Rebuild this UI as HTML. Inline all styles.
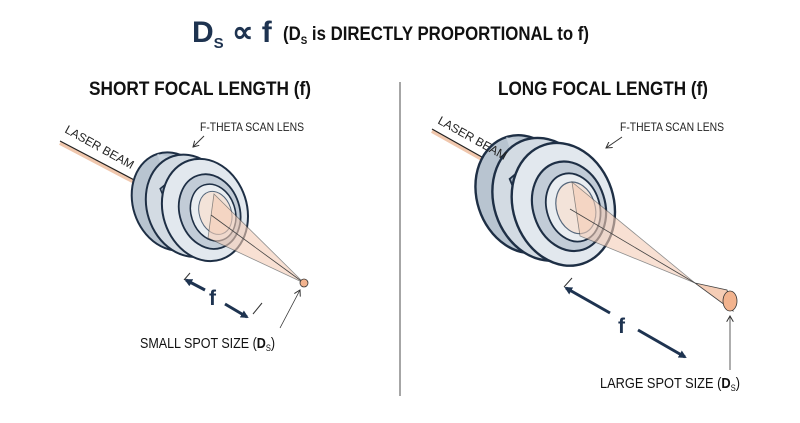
<!DOCTYPE html>
<html><head><meta charset="utf-8"><style>
html,body{margin:0;padding:0;background:#fff;}
svg{display:block;font-family:"Liberation Sans Narrow","Liberation Sans",sans-serif;}
</style></head><body>
<svg width="800" height="423" viewBox="0 0 800 423" xmlns="http://www.w3.org/2000/svg">
<defs>
<marker id="ah" markerWidth="8" markerHeight="8" refX="6" refY="4" orient="auto" markerUnits="userSpaceOnUse"><path d="M0,0 L8,4 L0,8 z" fill="#1e3350"/></marker>
<marker id="sa" markerWidth="7" markerHeight="7" refX="6" refY="3.5" orient="auto" markerUnits="userSpaceOnUse"><path d="M0,0 L6,3.5 L0,7" fill="none" stroke="#333" stroke-width="1"/></marker>
<g id="lens">
  <ellipse cx="-22" cy="-14" rx="40" ry="50" fill="#b8c4d0" stroke="#1e2f45" stroke-width="2"/>
  <path d="M-22,-64 L10,-44 L10,56 L-22,36 Z" fill="#c9d3dd"/>
  <ellipse cx="-8" cy="-5" rx="42" ry="52" fill="#d3dbe3" stroke="#1e2f45" stroke-width="2"/>
  <path d="M-30,-30 L-10,-38 L-6,10 L-26,20Z" fill="#a9b6c4" stroke="#1e2f45" stroke-width="1.5"/>
  <ellipse cx="6" cy="4" rx="42" ry="52" fill="#e2e8ee" stroke="#1e2f45" stroke-width="2"/>
  <ellipse cx="10" cy="7" rx="30" ry="38" fill="#c2ccd7" stroke="#1e2f45" stroke-width="1.8"/>
  <ellipse cx="13" cy="9" rx="22" ry="29" fill="#e9edf1" stroke="#1e2f45" stroke-width="1.5"/>
  <ellipse cx="15" cy="10" rx="16" ry="22" fill="#f3e3d9" stroke="#55677c" stroke-width="1"/>
</g>
</defs>

<text x="192" y="42" font-size="30" font-weight="bold" fill="#1e3350">D<tspan font-size="15" dy="6">S</tspan><tspan dy="-6"> ∝ f</tspan></text>
<text x="283" y="40" font-size="19" font-weight="bold" fill="#111" textLength="306" lengthAdjust="spacingAndGlyphs">(D<tspan font-size="11" dy="4">S</tspan><tspan dy="-4"> is DIRECTLY PROPORTIONAL to f)</tspan></text>

<text x="200" y="95" font-size="19" font-weight="bold" fill="#111" text-anchor="middle" textLength="222" lengthAdjust="spacingAndGlyphs">SHORT FOCAL LENGTH (f)</text>
<text x="603" y="95" font-size="19" font-weight="bold" fill="#111" text-anchor="middle" textLength="210" lengthAdjust="spacingAndGlyphs">LONG FOCAL LENGTH (f)</text>

<line x1="400" y1="82" x2="400" y2="396" stroke="#888" stroke-width="1.5"/>

<!-- LEFT -->
<line x1="60" y1="143" x2="140" y2="185" stroke="#f0c7ad" stroke-width="4"/>
<line x1="60" y1="141" x2="140" y2="183" stroke="#222" stroke-width="1.2"/>
<g transform="translate(198,208) rotate(-18) scale(1.0)"><use href="#lens"/></g>
<text x="64" y="132" font-size="12" fill="#222" transform="rotate(29 64 132)">LASER BEAM</text>
<path d="M214,194 L304,283 L208,238 Z" fill="#f5cdb6" opacity="0.6" stroke="#444" stroke-width="0.8"/>
<line x1="211" y1="215" x2="304" y2="283" stroke="#444" stroke-width="0.8"/>
<circle cx="304" cy="283" r="4" fill="#f2b38e" stroke="#333" stroke-width="0.8"/>
<text x="200" y="131" font-size="12" fill="#222" textLength="104" lengthAdjust="spacingAndGlyphs">F-THETA SCAN LENS</text>
<line x1="204" y1="136" x2="193" y2="147" stroke="#333" stroke-width="1" marker-end="url(#sa)"/>
<line x1="205" y1="290" x2="186" y2="280" stroke="#1e3350" stroke-width="3" marker-end="url(#ah)"/>
<line x1="225" y1="304" x2="247" y2="317" stroke="#1e3350" stroke-width="3" marker-end="url(#ah)"/>
<text x="209" y="305" font-size="21" font-weight="bold" fill="#1e3350">f</text>
<line x1="184" y1="280" x2="190" y2="273" stroke="#333" stroke-width="1"/>
<line x1="253" y1="314" x2="262" y2="303" stroke="#333" stroke-width="1"/>
<line x1="280" y1="328" x2="300" y2="290" stroke="#333" stroke-width="0.8" marker-end="url(#sa)"/>
<text x="140" y="348" font-size="15" fill="#111" textLength="135" lengthAdjust="spacingAndGlyphs">SMALL SPOT SIZE (<tspan font-weight="bold">D</tspan><tspan font-size="9" dy="3">S</tspan><tspan dy="-3">)</tspan></text>

<!-- RIGHT -->
<line x1="432" y1="131" x2="505" y2="172" stroke="#f0c7ad" stroke-width="4"/>
<line x1="432" y1="129" x2="505" y2="170" stroke="#222" stroke-width="1.2"/>
<g transform="translate(555,202) rotate(-18) scale(1.2)"><use href="#lens"/></g>
<text x="437" y="123" font-size="12" fill="#222" transform="rotate(29 437 123)">LASER BEAM</text>
<path d="M572,182 L695,283 L580,236 Z" fill="#f5cdb6" opacity="0.6" stroke="#444" stroke-width="0.8"/>
<line x1="570" y1="209" x2="695" y2="283" stroke="#444" stroke-width="0.8"/>
<path d="M695,283 L727,290 L733,311 Z" fill="#f5cdb6" stroke="#444" stroke-width="0.8"/>
<ellipse cx="730" cy="301" rx="7" ry="10" fill="#f2b38e" stroke="#333" stroke-width="0.8"/>
<text x="620" y="131" font-size="12" fill="#222" textLength="104" lengthAdjust="spacingAndGlyphs">F-THETA SCAN LENS</text>
<line x1="622" y1="137" x2="606" y2="148" stroke="#333" stroke-width="1" marker-end="url(#sa)"/>
<line x1="610" y1="313" x2="566" y2="288" stroke="#1e3350" stroke-width="3" marker-end="url(#ah)"/>
<line x1="638" y1="330" x2="685" y2="357" stroke="#1e3350" stroke-width="3" marker-end="url(#ah)"/>
<text x="618" y="333" font-size="21" font-weight="bold" fill="#1e3350">f</text>
<line x1="564" y1="287" x2="572" y2="278" stroke="#333" stroke-width="1"/>
<line x1="730" y1="370" x2="730" y2="316" stroke="#333" stroke-width="0.8" marker-end="url(#sa)"/>
<text x="600" y="388" font-size="15" fill="#111" textLength="140" lengthAdjust="spacingAndGlyphs">LARGE SPOT SIZE (<tspan font-weight="bold">D</tspan><tspan font-size="9" dy="3">S</tspan><tspan dy="-3">)</tspan></text>
</svg>
</body></html>
